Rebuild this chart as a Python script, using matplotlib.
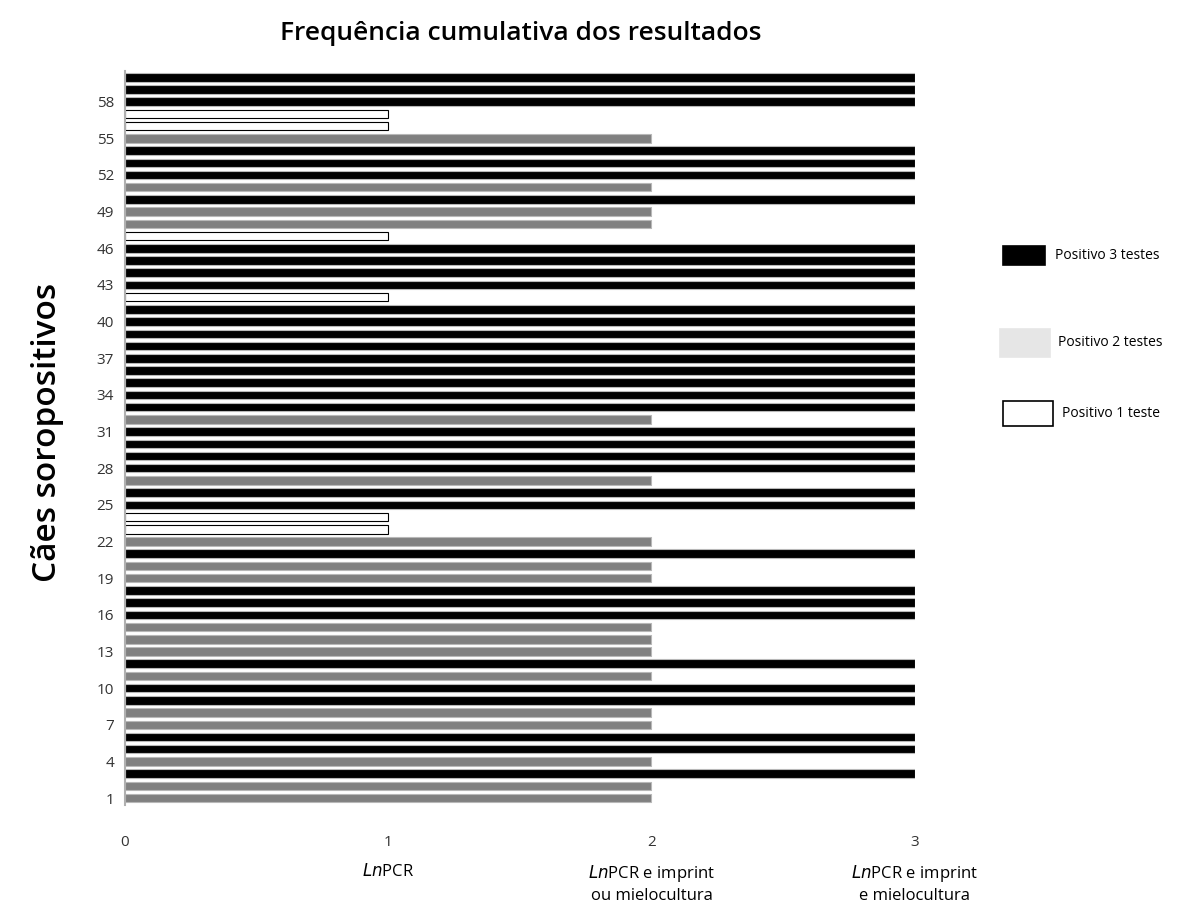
import matplotlib.pyplot as plt
from matplotlib.patches import Rectangle
import numpy as np

plt.rcParams['font.family'] = ['Open Sans', 'DejaVu Sans']

# cães 1..60 e número de testes positivos
caes = list(range(1, 61))
testes = [2, 2, 3, 2, 3, 3, 2, 2, 3, 3,
          2, 3, 2, 2, 2, 3, 3, 3, 2, 2,
          3, 2, 1, 1, 3, 3, 2, 3, 3, 3,
          3, 2, 3, 3, 3, 3, 3, 3, 3, 3,
          3, 1, 3, 3, 3, 3, 1, 2, 2, 3,
          2, 3, 3, 3, 2, 1, 1, 3, 3, 3]
yticks = list(range(1, 61, 3))
xticks = [0, 1, 2, 3]
categorias = ['$\\it{Ln}$PCR', '$\\it{Ln}$PCR e imprint\nou mielocultura',
              '$\\it{Ln}$PCR e imprint\ne mielocultura']
legenda = ['Positivo 3 testes', 'Positivo 2 testes', 'Positivo 1 teste']

cores = {3: 'black', 2: '#808080', 1: 'white'}
bordas = {3: '#b8b8b8', 2: '#b8b8b8', 1: 'black'}

fig = plt.figure(figsize=(11.91, 9.24), dpi=100)
ax = fig.add_axes([0.105, 0.129, 0.663, 0.794])

ax.barh(caes, testes, height=0.7,
        color=[cores[t] for t in testes],
        edgecolor=[bordas[t] for t in testes], linewidth=0.8)

ax.set_xlim(0, 3)
ax.set_ylim(0.45, 60.5)
ax.set_yticks(yticks)
ax.set_yticklabels([str(v) for v in yticks], fontsize=11, color='#333333')
ax.set_xticks(xticks)
ax.set_xticklabels([str(v) for v in xticks], fontsize=11, color='#333333')
ax.tick_params(axis='both', length=0)
ax.tick_params(axis='x', pad=22)
ax.tick_params(axis='y', pad=8)
for s in ['top', 'right', 'bottom']:
    ax.spines[s].set_visible(False)
ax.spines['left'].set_color('#b0b0b0')
ax.spines['left'].set_linewidth(1.5)

# nomes das categorias abaixo dos ticks
for x, txt in zip(xticks[1:], categorias):
    ax.annotate(txt, xy=(x, 0), xycoords=('data', 'axes fraction'),
                xytext=(0, -42), textcoords='offset points',
                ha='center', va='top', fontsize=12, linespacing=1.3)

fig.text(0.437, 0.964, 'Frequência cumulativa dos resultados',
         ha='center', va='center', fontsize=19, fontweight='semibold')
fig.text(0.040, 0.532, 'Cães soropositivos', rotation=90, ha='center', va='center',
         fontsize=24, fontweight='semibold')

# legenda manual
leg_rects = [(0.842, 0.713, 0.035, 0.021), (0.840, 0.614, 0.042, 0.030),
             (0.842, 0.539, 0.042, 0.027)]
leg_fc = ['black', '#e6e6e6', 'white']
leg_ec = ['black', '#e6e6e6', 'black']
leg_tx = [0.886, 0.888, 0.892]
for (x, y, w, h), fc, ec, tx, lab in zip(leg_rects, leg_fc, leg_ec, leg_tx, legenda):
    fig.add_artist(Rectangle((x, y), w, h, transform=fig.transFigure,
                             facecolor=fc, edgecolor=ec, linewidth=1.2))
    fig.text(tx, y + h / 2, lab, ha='left', va='center', fontsize=10)

fig.savefig('out.png', dpi=100, facecolor='white')
